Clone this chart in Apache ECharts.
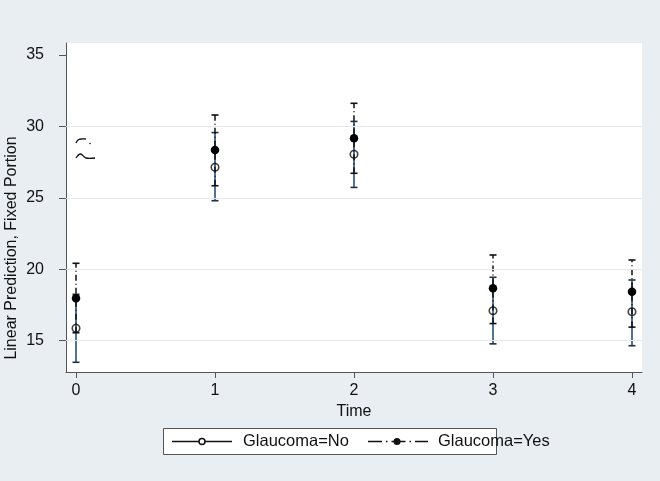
<!DOCTYPE html>
<html>
<head>
<meta charset="utf-8">
<script src="https://cdn.jsdelivr.net/npm/echarts@6/dist/echarts.min.js"></script>
<style>
  html, body { margin: 0; padding: 0; background: #e9eef2; }
  #chart { width: 660px; height: 481px; }
</style>
</head>
<body>
<div id="chart"></div>
<script>
// values
const time = [0, 1, 2, 3, 4];
const noMean = [15.87, 27.14, 28.05, 17.10, 17.03];
const noLow = [13.49, 24.80, 25.73, 14.78, 14.65];
const noHigh = [18.25, 29.57, 30.35, 19.44, 19.25];
const yesMean = [17.97, 28.35, 29.17, 18.67, 18.43];
const yesLow = [15.56, 25.85, 26.72, 16.20, 15.95];
const yesHigh = [20.42, 30.80, 31.62, 21.00, 20.65];
const yTicks = [15, 20, 25, 30, 35];
const gridValues = [15, 20, 25, 30];
const legendNames = ['Glaucoma=No', 'Glaucoma=Yes'];

const font = '"Liberation Sans", Arial, sans-serif';
const chart = echarts.init(document.getElementById('chart'));

function errorBars(name, lo, hi, color, width, dash, capColor) {
    return {
        name: name,
        type: 'custom',
        z: 2,
        data: time.map((t, i) => [t, lo[i], hi[i]]),
        encode: { x: 0, y: [1, 2] },
        renderItem(params, api) {
            const x = api.value(0);
            const pLo = api.coord([x, api.value(1)]);
            const pHi = api.coord([x, api.value(2)]);
            const half = 3.5;
            return {
                type: 'group',
                children: [
                    { type: 'line', shape: { x1: pLo[0], y1: pLo[1], x2: pHi[0], y2: pHi[1] },
                      style: { stroke: color, lineWidth: width, lineDash: dash } },
                    { type: 'line', shape: { x1: pLo[0] - half, y1: pLo[1], x2: pLo[0] + half, y2: pLo[1] },
                      style: { stroke: capColor, lineWidth: 1.6 } },
                    { type: 'line', shape: { x1: pHi[0] - half, y1: pHi[1], x2: pHi[0] + half, y2: pHi[1] },
                      style: { stroke: capColor, lineWidth: 1.6 } }
                ]
            };
        }
    };
}

const option = {
    backgroundColor: '#e9eef2',
    animation: false,
    grid: {
        left: 66, right: 18, top: 43, bottom: 109,
        show: true, backgroundColor: '#ffffff', borderWidth: 0
    },
    xAxis: {
        type: 'value',
        min: -0.072, max: 4.072,
        name: 'Time',
        nameLocation: 'middle',
        nameGap: 27,
        nameTextStyle: { fontFamily: font, fontSize: 16, color: '#111' },
        axisLine: { show: true, onZero: false, lineStyle: { color: '#555', width: 1 } },
        axisTick: { show: true, length: 6, customValues: time, lineStyle: { color: '#555' } },
        axisLabel: { customValues: time, margin: 11, fontFamily: font, fontSize: 16, color: '#111' },
        splitLine: { show: false }
    },
    yAxis: {
        type: 'value',
        min: 12.81, max: 35.84,
        axisLine: { show: true, onZero: false, lineStyle: { color: '#555', width: 1 } },
        axisTick: { show: true, length: 7, customValues: yTicks, lineStyle: { color: '#555' } },
        axisLabel: { customValues: yTicks, margin: 22, fontFamily: font, fontSize: 16, color: '#111' },
        splitLine: { show: false }
    },
    series: [
        {
            type: 'line',
            data: [],
            silent: true,
            markLine: {
                symbol: 'none',
                silent: true,
                label: { show: false },
                lineStyle: { color: '#e3e9ee', width: 1, type: 'solid' },
                data: gridValues.map(v => ({ yAxis: v }))
            }
        },
        errorBars('noCI', noLow, noHigh, '#4f7399', 2, null, '#22303f'),
        errorBars('yesCI', yesLow, yesHigh, '#111111', 1.5, [6, 3, 1, 3], '#111111'),
        {
            name: legendNames[0],
            type: 'scatter',
            z: 3,
            symbol: 'circle',
            symbolSize: 7.5,
            itemStyle: { color: 'rgba(0,0,0,0)', borderColor: '#111', borderWidth: 1.6 },
            data: time.map((t, i) => [t, noMean[i]])
        },
        {
            name: legendNames[1],
            type: 'scatter',
            z: 3,
            symbol: 'circle',
            symbolSize: 8.5,
            itemStyle: { color: '#000', opacity: 1 },
            data: time.map((t, i) => [t, yesMean[i]])
        }
    ],
    graphic: [
        {
            type: 'text', x: 12, y: 248, rotation: Math.PI / 2,
            style: { text: 'Linear Prediction, Fixed Portion', font: '16px ' + font, fill: '#111',
                     align: 'center', verticalAlign: 'middle' }
        },
        // stray marks near the top-left of the plot
        {
            type: 'polyline',
            shape: { points: [[76, 143], [78, 140], [81, 139], [86, 139]], smooth: 0.4 },
            style: { stroke: '#111', lineWidth: 1.3, fill: null }
        },
        { type: 'circle', shape: { cx: 90, cy: 143.5, r: 0.8 }, style: { fill: '#111' } },
        {
            type: 'polyline',
            shape: { points: [[76, 158], [80.5, 154], [86, 158], [95, 158]], smooth: 0.4 },
            style: { stroke: '#111', lineWidth: 1.3, fill: null }
        },
        // legend box
        {
            type: 'rect', shape: { x: 163.5, y: 428.5, width: 333, height: 26 },
            style: { fill: '#ffffff', stroke: '#555', lineWidth: 1 }
        },
        { type: 'line', shape: { x1: 172, y1: 441.5, x2: 232, y2: 441.5 }, style: { stroke: '#111', lineWidth: 1.5 } },
        { type: 'circle', shape: { cx: 202, cy: 441.5, r: 3 }, style: { fill: '#fff', stroke: '#111', lineWidth: 1.5 } },
        {
            type: 'text', x: 243, y: 441.5,
            style: { text: legendNames[0], font: '16.5px ' + font, fill: '#111', verticalAlign: 'middle' }
        },
        { type: 'line', shape: { x1: 368, y1: 441.5, x2: 428, y2: 441.5 },
          style: { stroke: '#111', lineWidth: 1.5, lineDash: [14, 4, 1.5, 4] } },
        { type: 'circle', shape: { cx: 397, cy: 441.5, r: 3.5 }, style: { fill: '#111' } },
        {
            type: 'text', x: 438, y: 441.5,
            style: { text: legendNames[1], font: '16.5px ' + font, fill: '#111', verticalAlign: 'middle' }
        }
    ]
};

chart.setOption(option);
</script>
</body>
</html>
